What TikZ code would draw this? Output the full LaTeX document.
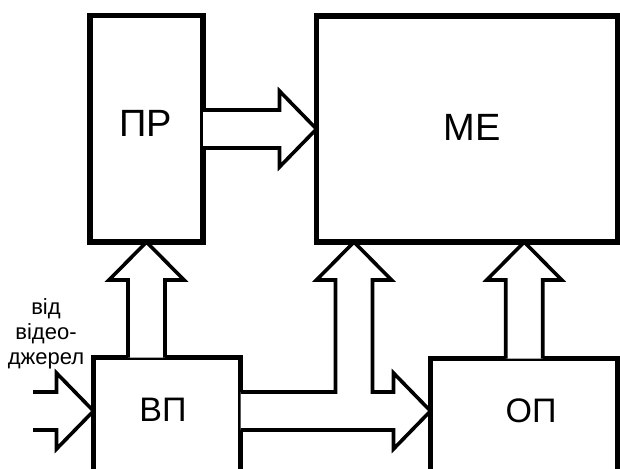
\documentclass[tikz,border=0pt]{standalone}
\usepackage{fontspec}
\setmainfont{Liberation Sans}
\usetikzlibrary{calc}

\tikzset{
  blk/.style={draw, line width=5.5pt, rectangle, outer sep=0pt, inner sep=0pt, fill=white},
  fat/.style={draw, line width=3.6pt, line join=miter, fill=white},
  big/.style={inner sep=0pt, font=\fontsize{38}{40}\selectfont},
  mid/.style={inner sep=0pt, font=\fontsize{34}{36}\selectfont},
  small/.style={inner sep=0pt, align=center, font=\fontsize{22}{25}\selectfont}
}

% wide arrow pointing up: tip at #1, shaft starting at the height of #2
\newcommand\fatup[2]{%
  \draw[fat] let \p1=(#1), \p2=(#2) in
    (\x1-18.5pt,\y2) -- (\x1-18.5pt,\y1-38pt) -- (\x1-37.5pt,\y1-38pt) --
    (\x1,\y1) -- (\x1+37.5pt,\y1-38pt) -- (\x1+18.5pt,\y1-38pt) --
    (\x1+18.5pt,\y2);}
% wide arrow pointing right: tip at #1, shaft starting at the x of #2
\newcommand\fatright[2]{%
  \draw[fat] let \p1=(#1), \p2=(#2) in
    (\x2,\y1+19pt) -- (\x1-37pt,\y1+19pt) -- (\x1-37pt,\y1+38pt) --
    (\x1,\y1) -- (\x1-37pt,\y1-38pt) -- (\x1-37pt,\y1-19pt) --
    (\x2,\y1-19pt);}

\begin{document}
\begin{tikzpicture}[x=1pt,y=-1pt]
\useasboundingbox (0,0) rectangle (620,468);
\clip (0,0) rectangle (620,468);

% blocks
\node[blk, minimum width=113pt, minimum height=226.5pt] (pr) at (146.5,128.75) {};
\node[blk, minimum width=301.5pt, minimum height=226pt] (me) at (467.25,129) {};
\node[blk, anchor=north, minimum width=147pt, minimum height=160pt] (vp) at (167,357.5) {};
\node[blk, anchor=north, minimum width=187.5pt, minimum height=160pt] (op) at (524.25,358.5) {};

% block titles
\node[big] (prt) at (146,123.5) {ПР};
\node[big] (met) at (472,127) {МЕ};
\node[mid] (vpt) at (163,410) {ВП};
\node[mid] (opt) at (531,411) {ОП};

% source label and input
\node[small] (src) at (46,333.5) {від\\відео-\\джерел};
\coordinate (in) at (33,411);
\fatright{vp.west |- in}{in}

% buses
\fatup{pr.south}{vp.north}
\fatright{me.west}{pr.east}
\fatup{op.north |- me.south}{op.north}

% branching bus from ВП to МЕ and ОП
\draw[fat] let \p1=(me.south west), \p2=(op.west), \p3=(vp.east), \p4=(in) in
  (\x3,\y4+19pt) -- (\x1+19pt,\y4+19pt) -- (\x1+19pt,\y1-38pt) --
  (\x1,\y1-38pt) -- (\x1+37.5pt,\y1) -- (\x1+75pt,\y1-38pt) --
  (\x1+56pt,\y1-38pt) -- (\x1+56pt,\y4+19pt) -- (\x2-37pt,\y4+19pt) --
  (\x2-37pt,\y4+38pt) -- (\x2,\y4) -- (\x2-37pt,\y4-38pt) --
  (\x2-37pt,\y4-19pt) -- (\x3,\y4-19pt);
\end{tikzpicture}
\end{document}
